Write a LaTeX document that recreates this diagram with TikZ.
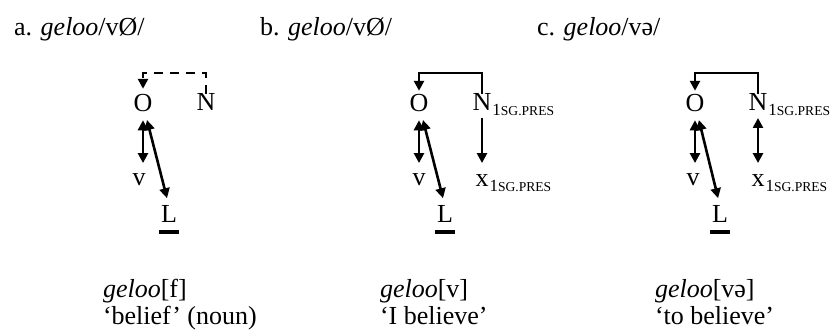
\documentclass[tikz,border=0pt]{standalone}
\usepackage{fontspec}
\setmainfont{Liberation Serif}
\usetikzlibrary{arrows.meta, positioning, calc}
\definecolor{inkline}{HTML}{000000}
\newcommand{\sgpres}{{\fontsize{8.5}{8.5}\selectfont 1\fontsize{6.8}{6.8}\selectfont SG.PRES}}
\newcommand{\formpair}[4]{%
  \node[seg, anchor=base west] (#1f) at (#2,298) {#3};
  \node[seg, anchor=base west] (#1g) at (#2,324) {#4};}
\tikzset{
  seg/.style={inner sep=0pt, outer sep=0pt, anchor=base},
  sub/.style={inner sep=0pt, outer sep=0pt, anchor=base west},
  link/.style={draw=inkline, line width=1.3pt, -{Triangle[length=5pt, width=5pt]}},
  twoway/.style={link, {Triangle[length=5pt, width=5pt]}-{Triangle[length=5pt, width=5pt]}},
  bar/.style={draw=inkline, line width=1.6pt}
}

\begin{document}
\begin{tikzpicture}[x=0.5pt, y=-0.5pt, font=\fontsize{13}{13}\selectfont]
  \useasboundingbox (0,0) rectangle (835,336);

  \node[seg, anchor=base west] (ta) at (14,36) {a. \textit{geloo}/vØ/};
  \node[seg, anchor=base west] (tb) at (260,36) {b. \textit{geloo}/vØ/};
  \node[seg, anchor=base west] (tc) at (537,36) {c. \textit{geloo}/və/};

  % a
  \node[seg] (Oa) at (143,112) {O};
  \node[seg] (Na) at (206,111) {N};
  \node[seg] (va) at (139,186) {v};
  \node[seg] (La) at (169,223) {L};
  \draw[link, dash pattern=on 4.5pt off 3.5pt, shorten >=3pt] (Na.north) -- ++(0,-21) -| (Oa.north);
  \draw[twoway, shorten <=4pt, shorten >=5.5pt] (Oa.south) -- (Oa.south |- va.north);
  \draw[twoway, shorten <=4pt, shorten >=4pt] ([xshift=1pt]Oa.south) -- (La.north);
  \draw[bar] ([xshift=-1pt, yshift=-4.5pt]La.base west) -- ([xshift=1pt, yshift=-4.5pt]La.base east);

  % b
  \node[seg] (Ob) at (419,112) {O};
  \node[seg] (Nb) at (482,111) {N};
  \node[sub] (Nbs) at ([xshift=0.5pt, yshift=-2.5pt]Nb.base east) {\sgpres};
  \node[seg] (vb) at (419,186) {v};
  \node[seg] (xb) at (482,187) {x};
  \node[sub] (xbs) at ([xshift=0.5pt, yshift=-2.5pt]xb.base east) {\sgpres};
  \node[seg] (Lb) at (445,223) {L};
  \draw[link, shorten >=2pt] (Nb.north) -- ++(0,-21) -| (Ob.north);
  \draw[twoway, shorten <=4pt, shorten >=5.5pt] (Ob.south) -- (Ob.south |- vb.north);
  \draw[twoway, shorten <=4pt, shorten >=4pt] ([xshift=1pt]Ob.south) -- (Lb.north);
  \draw[link, shorten <=3.5pt, shorten >=6pt] (Nb.south) -- (Nb.south |- xb.north);
  \draw[bar] ([xshift=-1pt, yshift=-4.5pt]Lb.base west) -- ([xshift=1pt, yshift=-4.5pt]Lb.base east);

  % c
  \node[seg] (Oc) at (695,112) {O};
  \node[seg] (Nc) at (758,111) {N};
  \node[sub] (Ncs) at ([xshift=0.5pt, yshift=-2.5pt]Nc.base east) {\sgpres};
  \node[seg] (vc) at (693,186) {v};
  \node[seg] (xc) at (758,187) {x};
  \node[sub] (xcs) at ([xshift=0.5pt, yshift=-2.5pt]xc.base east) {\sgpres};
  \node[seg] (Lc) at (720,223) {L};
  \draw[link, shorten >=2pt] (Nc.north) -- ++(0,-21) -| (Oc.north);
  \draw[twoway, shorten <=4pt, shorten >=5.5pt] (Oc.south) -- (Oc.south |- vc.north);
  \draw[twoway, shorten <=4pt, shorten >=4pt] ([xshift=1pt]Oc.south) -- (Lc.north);
  \draw[twoway, shorten <=3.5pt, shorten >=6pt] (Nc.south) -- (Nc.south |- xc.north);
  \draw[bar] ([xshift=-1pt, yshift=-4.5pt]Lc.base west) -- ([xshift=1pt, yshift=-4.5pt]Lc.base east);

  \formpair{a}{103}{\textit{geloo}[f]}{‘belief’ (noun)}
  \formpair{b}{380}{\textit{geloo}[v]}{‘I believe’}
  \formpair{c}{655}{\textit{geloo}[və]}{‘to believe’}
\end{tikzpicture}
\end{document}
